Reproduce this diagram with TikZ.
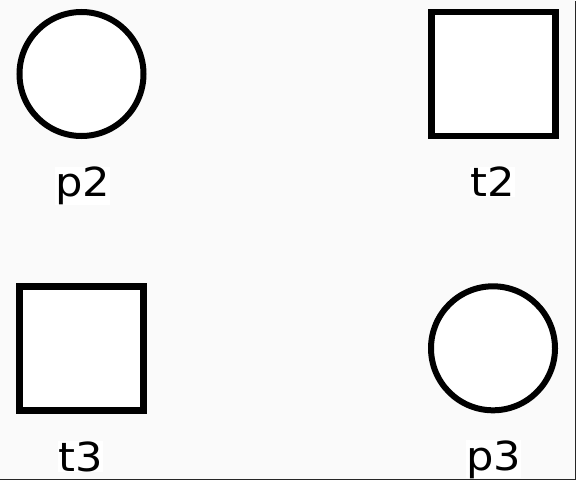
\documentclass[tikz,border=0pt]{standalone}
\usepackage{fontspec}
\setmainfont[FakeStretch=1.08]{DejaVu Sans}
\definecolor{bgray}{HTML}{FAFAFA}
\begin{document}
\begin{tikzpicture}[x=1bp,y=-1bp,
  place/.style={circle,draw=black,fill=white,line width=6bp,inner sep=0pt,minimum size=124bp},
  trans/.style={rectangle,draw=black,fill=white,line width=6.5bp,inner sep=0pt,minimum size=124bp},
  lbl/.style={anchor=base,fill=white,inner sep=0pt,font=\fontsize{40bp}{48bp}\selectfont}]
\fill[bgray] (0,0) rectangle (576,480);
\useasboundingbox (0,0) rectangle (576,480);
\node[place] (p2) at (81.5,74) {};
\node[trans] (t2) at (493.5,74.2) {};
\node[trans] (t3) at (81.7,348.7) {};
\node[place] (p3) at (493,348.3) {};
\node[lbl] (lp2) at (82.5,197) {p2};
\node[lbl] (lt2) at (492.7,197) {t2};
\node[lbl] (lt3) at (80.5,471) {t3};
\node[lbl] (lp3) at (493.7,470) {p3};
\draw[line width=1.2bp,black!85] (575.4,1.5) -- (575.4,479.4) -- (0,479.4);
\end{tikzpicture}
\end{document}
